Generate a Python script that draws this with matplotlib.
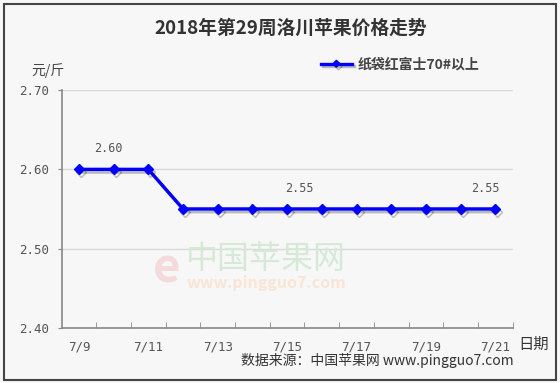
import matplotlib.pyplot as plt
import matplotlib.patheffects as pe
from matplotlib.patches import Rectangle

plt.rcParams['font.family'] = ['Noto Sans CJK SC', 'DejaVu Sans']

### données
dates = ['7/9', '7/10', '7/11', '7/12', '7/13', '7/14', '7/15',
         '7/16', '7/17', '7/18', '7/19', '7/20', '7/21']
prix = [2.60, 2.60, 2.60, 2.55, 2.55, 2.55, 2.55,
        2.55, 2.55, 2.55, 2.55, 2.55, 2.55]
y_ticks = [2.40, 2.50, 2.60, 2.70]
etiquettes = [0, 6, 12]  # points avec valeur affichée
serie = '纸袋红富士70#以上'

bg = '#f7f7f7'
fig = plt.figure(figsize=(5.6, 3.83), dpi=100, facecolor=bg)
ax = fig.add_axes([0.110, 0.1445, 0.8055, 0.620])
ax.set_facecolor(bg)

# filigrane (sous la courbe)
fig.text(0.475, 0.323, '中国苹果网', ha='center', va='center', fontsize=23,
         color='#d6e9d6')
fig.text(0.475, 0.260, 'www.pingguo7.com', ha='center', va='center', fontsize=11.5,
         color='#f9e5d6', style='italic', weight='bold')
fig.text(0.298, 0.300, 'e', ha='center', va='center', fontsize=34,
         color='#f4dada', weight='bold')

x = list(range(len(dates)))
ax.plot(x, prix, color='#0000ff', lw=2.4, marker='D', ms=5,
        label=serie, zorder=3,
        path_effects=[pe.SimpleLineShadow(offset=(1.5, -2), shadow_color='#000000', alpha=0.25),
                      pe.Normal()])

# valeurs
decal = {0: 21, 6: 9, 12: -7}
for i in etiquettes:
    ax.annotate('%.2f' % prix[i], (x[i], prix[i]), xytext=(decal[i], 10),
                textcoords='offset points', ha='center', va='bottom',
                fontsize=8.5, color='#555555', family='DejaVu Sans Mono')

ax.set_xlim(-0.5, len(dates) - 0.5)
ax.set_ylim(2.40, 2.70)
ax.set_yticks(y_ticks)
ax.set_yticklabels(['%.2f' % v for v in y_ticks], family='DejaVu Sans Mono')
ax.set_xticks(x[::2])
ax.set_xticklabels(dates[::2], family='DejaVu Sans Mono')
ax.set_xticks([i - 0.5 for i in range(1, len(dates) + 1)], minor=True)
ax.tick_params(axis='x', which='major', length=0, pad=9, labelsize=9, colors='#555555')
ax.tick_params(axis='x', which='minor', length=4, direction='in', color='#888888')
ax.tick_params(axis='y', length=3, direction='out', pad=6, labelsize=9, colors='#555555')
ax.tick_params(axis='y', color='#888888')

ax.grid(axis='y', color='#d9d9d9', lw=1)
ax.set_axisbelow(True)
ax.patch.set_alpha(0)
for s in ['top', 'right']:
    ax.spines[s].set_visible(False)
for s in ['left', 'bottom']:
    ax.spines[s].set_color('#888888')
    ax.spines[s].set_linewidth(1.2)

leg = ax.legend(loc='upper right', bbox_to_anchor=(0.953, 1.19), frameon=False,
                handlelength=2.2, handletextpad=0.4, markerscale=0.7,
                prop={'size': 10, 'weight': 'bold'})
for t in leg.get_texts():
    t.set_color('#444444')

# textes
fig.text(0.52, 0.925, '2018年第29周洛川苹果价格走势', ha='center', va='center',
         fontsize=13.5, weight='bold', color='#333333')
fig.text(0.085, 0.817, '元/斤', ha='center', va='center', fontsize=10, color='#444444')
fig.text(0.952, 0.102, '日期', ha='center', va='center', fontsize=11, color='#333333')
fig.text(0.917, 0.058, '数据来源：中国苹果网 www.pingguo7.com', ha='right', va='center',
         fontsize=10, color='#333333')

fig.patches.append(Rectangle((0.007, 0.008), 0.985, 0.982, transform=fig.transFigure,
                             fill=False, ec='#444444', lw=1.5))

fig.savefig('out.png', dpi=100, facecolor=bg)
